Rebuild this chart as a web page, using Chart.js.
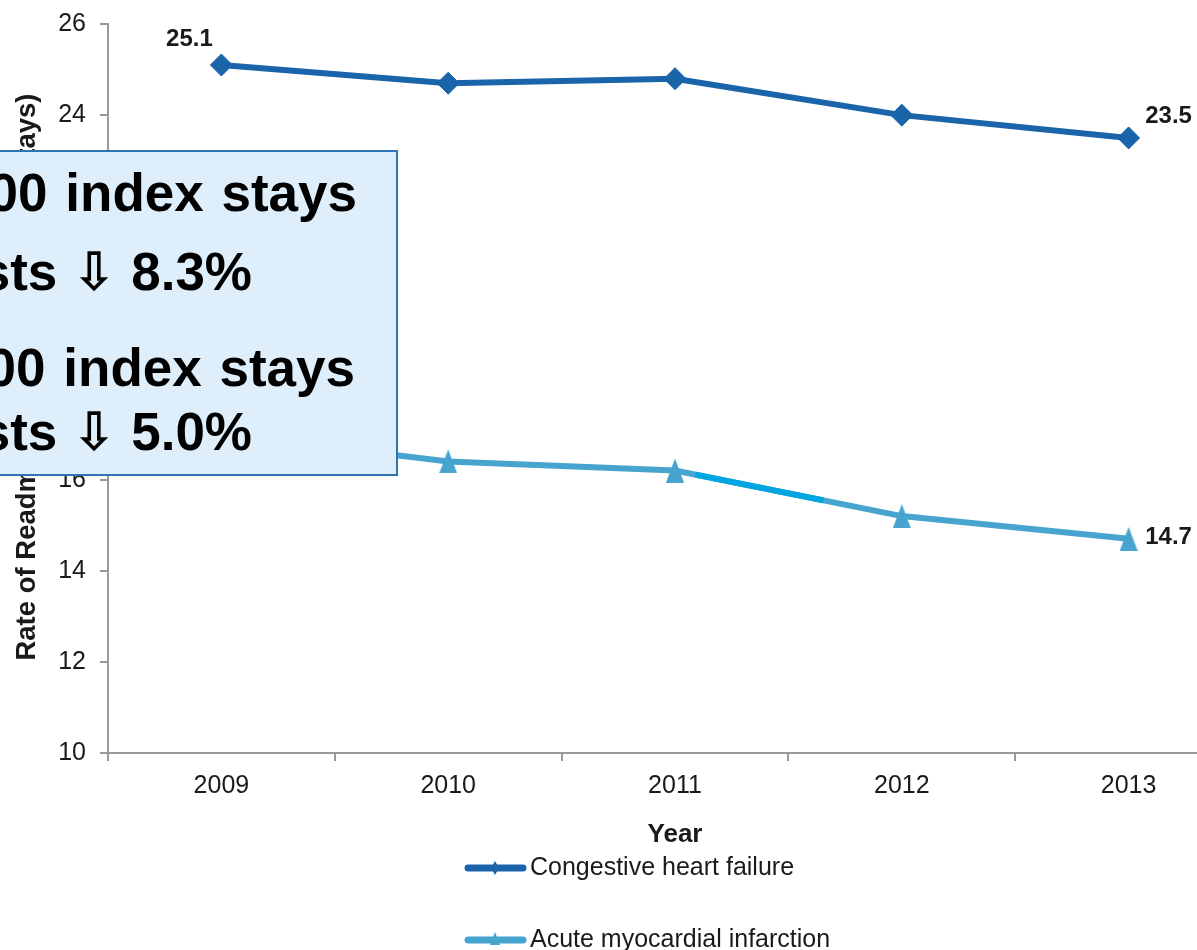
<!DOCTYPE html>
<html>
<head>
<meta charset="utf-8">
<script src="https://cdn.jsdelivr.net/npm/chart.js@4.4.1/dist/chart.umd.min.js"></script>
<style>
  html, body { margin: 0; padding: 0; overflow: hidden; background: #fff; }
  #wrap { position: absolute; left: 0; top: 0; width: 1260px; height: 950px; }
  #note {
    position: absolute; left: -20px; top: 150px; width: 418px; height: 326px;
    box-sizing: border-box; background: #deeffb; border: 2px solid #2f75b6;
  }
  .ln {
    position: absolute; white-space: nowrap; text-align: right; color: #000;
    font: bold 53px "Liberation Sans", Arial, "DejaVu Sans", sans-serif; line-height: 53px;
  }
  .wide { word-spacing: 3px; }
</style>
</head>
<body>
<div id="wrap"><canvas id="chart"></canvas></div>
<div id="note">
  <div class="ln wide" style="right:39px; top:14px;">CHF readmissions per 100 index stays</div>
  <div class="ln" style="right:144px; top:93px;">Costs ⇩ 8.3%</div>
  <div class="ln wide" style="right:41px; top:189px;">AMI readmissions per 100 index stays</div>
  <div class="ln" style="right:144px; top:253px;">Costs ⇩ 5.0%</div>
</div>
<script>
// Readmission rates by year
const years = ['2009', '2010', '2011', '2012', '2013'];
const chfRates = [25.1, 24.7, 24.8, 24.0, 23.5];
const amiRates = [17.0, 16.4, 16.2, 15.2, 14.7];
const seriesNames = ['Congestive heart failure', 'Acute myocardial infarction'];
const yAxisMin = 10;
const yAxisMax = 26;
const yAxisStep = 2;

const FONT = '"Liberation Sans", Arial, sans-serif';
const CHF_COLOR = '#1a64aa';
const AMI_COLOR = '#47a4cf';
const AXIS_COLOR = '#999999';
const TEXT_COLOR = '#1a1a1a';

// Tall triangle marker for the AMI series
function triangleMarker(w, h, color) {
  const c = document.createElement('canvas');
  c.width = w; c.height = h;
  const g = c.getContext('2d');
  g.fillStyle = color;
  g.beginPath();
  g.moveTo(w / 2, 0);
  g.lineTo(w, h);
  g.lineTo(0, h);
  g.closePath();
  g.fill();
  return c;
}
const amiMarker = triangleMarker(18, 24, AMI_COLOR);

// End-point value labels
const valueLabels = {
  id: 'valueLabels',
  afterDatasetsDraw(chart) {
    const ctx = chart.ctx;
    const spots = [
      { ds: 0, i: 0, dx: -32, dy: -26 },
      { ds: 0, i: 4, dx: 40, dy: -22 },
      { ds: 1, i: 0, dx: -32, dy: -26 },
      { ds: 1, i: 4, dx: 40, dy: -1 }
    ];
    ctx.save();
    ctx.font = 'bold 24px ' + FONT;
    ctx.fillStyle = TEXT_COLOR;
    ctx.textAlign = 'center';
    ctx.textBaseline = 'middle';
    spots.forEach(s => {
      const pt = chart.getDatasetMeta(s.ds).data[s.i];
      const v = chart.data.datasets[s.ds].data[s.i];
      ctx.fillText(v.toFixed(1), pt.x + s.dx, pt.y + s.dy);
    });
    ctx.restore();
  }
};

// Brighter stretch on the AMI line between 2011 and 2012
const accentStretch = {
  id: 'accentStretch',
  afterDatasetsDraw(chart) {
    const pts = chart.getDatasetMeta(1).data;
    const a = pts[2], b = pts[3];
    const t0 = 0.09, t1 = 0.655;
    const ctx = chart.ctx;
    ctx.save();
    ctx.strokeStyle = '#00a5e2';
    ctx.lineWidth = 6;
    ctx.lineCap = 'butt';
    ctx.beginPath();
    ctx.moveTo(a.x + (b.x - a.x) * t0, a.y + (b.y - a.y) * t0);
    ctx.lineTo(a.x + (b.x - a.x) * t1, a.y + (b.y - a.y) * t1);
    ctx.stroke();
    ctx.restore();
  }
};

// Stacked legend under the axis title
const stackedLegend = {
  id: 'stackedLegend',
  afterDraw(chart) {
    const ctx = chart.ctx;
    const area = chart.chartArea;
    const x0 = area.left + 357;
    const rows = [area.bottom + 115, area.bottom + 187];
    ctx.save();
    chart.data.datasets.forEach((ds, k) => {
      const y = rows[k];
      ctx.strokeStyle = ds.borderColor;
      ctx.lineWidth = 7;
      ctx.lineCap = 'round';
      ctx.beginPath();
      ctx.moveTo(x0 + 3, y);
      ctx.lineTo(x0 + 58, y);
      ctx.stroke();
      ctx.fillStyle = ds.borderColor;
      ctx.beginPath();
      if (k === 0) {
        ctx.moveTo(x0 + 30, y - 7); ctx.lineTo(x0 + 34, y);
        ctx.lineTo(x0 + 30, y + 7); ctx.lineTo(x0 + 26, y);
      } else {
        ctx.moveTo(x0 + 30, y - 8); ctx.lineTo(x0 + 35, y + 5); ctx.lineTo(x0 + 25, y + 5);
      }
      ctx.closePath();
      ctx.fill();
      ctx.font = '25px ' + FONT;
      ctx.fillStyle = TEXT_COLOR;
      ctx.textAlign = 'left';
      ctx.textBaseline = 'middle';
      ctx.fillText(ds.label, x0 + 65, y);
    });
    ctx.restore();
  }
};

Chart.defaults.font.family = FONT;
Chart.defaults.color = TEXT_COLOR;

new Chart(document.getElementById('chart'), {
  type: 'line',
  data: {
    labels: years,
    datasets: [
      {
        label: seriesNames[0], data: chfRates,
        borderColor: CHF_COLOR, backgroundColor: CHF_COLOR,
        borderWidth: 6, pointStyle: 'rectRot', pointRadius: 11,
        pointBorderWidth: 1, pointHoverRadius: 11, tension: 0
      },
      {
        label: seriesNames[1], data: amiRates,
        borderColor: AMI_COLOR, backgroundColor: AMI_COLOR,
        borderWidth: 6, pointStyle: amiMarker, pointRadius: 12,
        tension: 0
      }
    ]
  },
  options: {
    responsive: true,
    maintainAspectRatio: false,
    animation: false,
    devicePixelRatio: 1,
    layout: { padding: { top: 24, right: 12, left: 0, bottom: 0 } },
    plugins: { legend: { display: false }, tooltip: { enabled: false } },
    scales: {
      x: {
        offset: true,
        afterFit: s => { s.height = 197; s.paddingLeft = 0; s.paddingRight = 0; },
        grid: { offset: true, drawOnChartArea: false, drawTicks: true, tickLength: 8, color: AXIS_COLOR, lineWidth: 2 },
        border: { display: true, color: AXIS_COLOR, width: 2 },
        ticks: { font: { size: 25 }, color: TEXT_COLOR, padding: 10, maxRotation: 0 },
        title: { display: true, text: 'Year', font: { size: 26, weight: 'bold' }, color: TEXT_COLOR, padding: { top: 0, bottom: 100 } }
      },
      y: {
        min: yAxisMin, max: yAxisMax,
        afterFit: s => { s.width = 108; s.paddingTop = 0; s.paddingBottom = 0; },
        grid: { drawOnChartArea: false, drawTicks: true, tickLength: 8, color: AXIS_COLOR, lineWidth: 2 },
        border: { display: true, color: AXIS_COLOR, width: 2 },
        ticks: { stepSize: yAxisStep, font: { size: 25 }, color: TEXT_COLOR, padding: 14 },
        title: { display: true, text: '\u00a0\u00a0\u00a0Rate of Readmissions (per 100 index stays)', font: { size: 27.5, weight: 'bold' }, color: TEXT_COLOR, padding: { top: 11, bottom: 0 } }
      }
    }
  },
  plugins: [accentStretch, valueLabels, stackedLegend]
});
</script>
</body>
</html>
